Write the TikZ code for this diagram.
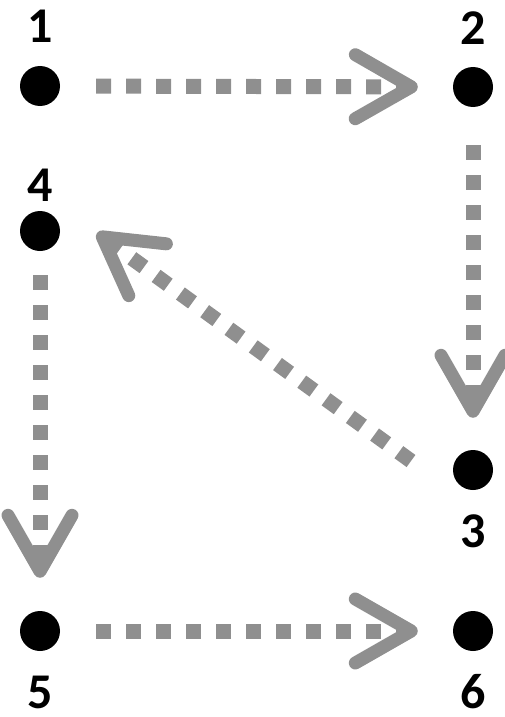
\documentclass[tikz,border=0pt]{standalone}
\usepackage{fontspec}
\setmainfont{Carlito}
\usetikzlibrary{arrows.meta,calc}
\definecolor{flowgray}{RGB}{143,143,143}

\begin{document}
\begin{tikzpicture}[x=1pt, y=-1pt,
  dot/.style={circle, fill=black, minimum size=40pt, inner sep=0pt},
  num/.style={font=\fontsize{50}{50}\selectfont\bfseries, inner sep=0pt},
  flow/.style={flowgray, line width=15pt, dash pattern=on 15pt off 15pt,
    -{Straight Barb[length=56pt, width=64pt, line width=13pt, round]}}]
\useasboundingbox (0,0) rectangle (505,717);
% Points
\node[dot] (p1) at (40,86) {};
\node[dot] (p2) at (473,87) {};
\node[dot] (p3) at (473,470) {};
\node[dot] (p4) at (40,231) {};
\node[dot] (p5) at (40,631) {};
\node[dot] (p6) at (473,631) {};
% Numbers
\node[num] (l1) at (40,26) {1};
\node[num] (l2) at (473,28) {2};
\node[num] (l3) at (473,531) {3};
\node[num] (l4) at (40,185) {4};
\node[num] (l5) at (40,692) {5};
\node[num] (l6) at (473,692) {6};
% Arrows
\draw[flow, shorten <=36pt, shorten >=35pt] (p1) -- (p2);
\draw[flow, shorten <=38pt, shorten >=32pt] (p2) -- (p3);
\draw[flow] ($(p3)+(-62,-9)$) -- ($(p4)+(57,2)$);
\draw[flow, shorten <=24pt, shorten >=33pt] (p4) -- (p5);
\draw[flow, shorten <=36pt, shorten >=35pt] (p5) -- (p6);
\end{tikzpicture}
\end{document}
